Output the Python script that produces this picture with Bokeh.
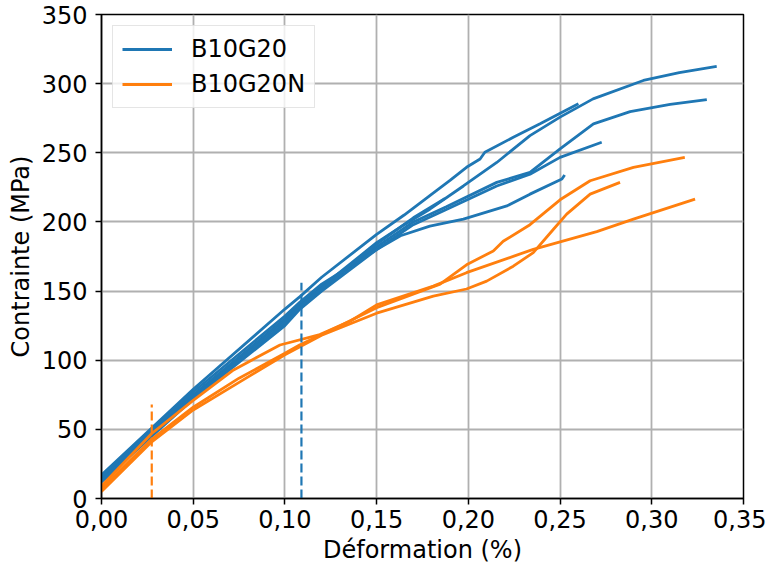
from bokeh.plotting import figure
from bokeh.models import Range1d, FixedTicker, CustomJSTickFormatter, Legend, LegendItem
from bokeh.embed import file_html
from bokeh.resources import INLINE

# ---- data ----
x_ticks = [0.0, 0.05, 0.10, 0.15, 0.20, 0.25, 0.30, 0.35]
y_ticks = [0, 50, 100, 150, 200, 250, 300, 350]

# B10G20 specimens
b1_x = [0, 0.0274, 0.05, 0.1, 0.1082, 0.12, 0.15, 0.165, 0.179, 0.1973, 0.2155, 0.2336, 0.25, 0.268, 0.2954, 0.315, 0.3354]
b1_y = [14, 47, 74, 130, 140, 153, 185, 198, 209.2, 226, 243, 262.4, 275.8, 289, 302.3, 308, 312.5]
b2_x = [0, 0.0274, 0.05, 0.1, 0.1082, 0.12, 0.15, 0.17, 0.188, 0.2155, 0.2336, 0.25, 0.2682, 0.2882, 0.31, 0.33]
b2_y = [15, 48, 75, 129, 139, 152, 182, 200, 211, 228.6, 235.8, 252.8, 270.9, 279.8, 285, 288.5]
b3_x = [0, 0.0274, 0.05, 0.1, 0.1082, 0.12, 0.15, 0.165, 0.179, 0.19, 0.199, 0.2064, 0.209, 0.2245, 0.2391, 0.26]
b3_y = [17, 51, 79, 137, 146, 160, 191, 205, 219, 230, 239.5, 245.5, 250.4, 261.2, 271, 285.4]
b4_x = [0, 0.0274, 0.05, 0.1, 0.1082, 0.12, 0.15, 0.17, 0.188, 0.2155, 0.2336, 0.25, 0.2727]
b4_y = [12, 45, 72, 125, 137, 150, 180, 198, 209, 226, 234.5, 246.7, 257.6]
b5_x = [0, 0.0274, 0.05, 0.1, 0.1082, 0.12, 0.15, 0.163, 0.179, 0.1973, 0.221, 0.2336, 0.251, 0.2525]
b5_y = [16, 49, 77, 132, 142, 155, 180, 190, 197, 202, 211.6, 220.1, 231, 234]
b6_x = [0, 0.0274, 0.05, 0.1, 0.1082, 0.12, 0.15, 0.17, 0.1873]
b6_y = [13, 46, 73, 127, 138, 152, 184, 203, 217]

# B10G20N specimens
o1_x = [0, 0.0274, 0.05, 0.075, 0.1, 0.108, 0.13, 0.15, 0.1846, 0.199, 0.2136, 0.219, 0.2336, 0.25, 0.2664, 0.29, 0.318]
o1_y = [7, 43, 66, 87, 105, 111, 125, 138, 155, 169, 179, 186, 198, 216, 229.8, 239.5, 246.7]
o2_x = [0, 0.0274, 0.05, 0.075, 0.1, 0.12, 0.15, 0.1809, 0.199, 0.21, 0.2245, 0.2354, 0.2464, 0.2536, 0.2664, 0.2827]
o2_y = [5, 41, 64, 84, 104, 118, 134, 146.3, 151.5, 157.2, 168, 177.8, 194.7, 205.6, 220.1, 228.6]
o3_x = [0, 0.0274, 0.05, 0.072, 0.0973, 0.119, 0.1355, 0.15, 0.1809, 0.199, 0.2354, 0.27, 0.29, 0.3236]
o3_y = [9, 47, 71, 93, 111, 118.5, 128.2, 140, 153.6, 163.3, 180.2, 193, 202, 216.5]

# vertical dashed markers
blue_mark_x = [0.109, 0.109]
blue_mark_y = [0, 156]
orange_mark_x = [0.0274, 0.0274]
orange_mark_y = [0, 68]

BLUE = "#1f77b4"
ORANGE = "#ff7f0e"
FONT = "DejaVu Sans"

p = figure(width=766, height=566, output_backend="svg", toolbar_location=None,
           x_range=Range1d(0, 0.35), y_range=Range1d(0, 350),
           min_border_left=101, min_border_right=23, min_border_top=14, min_border_bottom=68)
p.background_fill_color = "white"
p.border_fill_color = "white"
p.outline_line_color = "black"
p.outline_line_width = 1.5

blue_r = []
for xs, ys in [(b1_x, b1_y), (b2_x, b2_y), (b3_x, b3_y), (b4_x, b4_y), (b5_x, b5_y), (b6_x, b6_y)]:
    blue_r.append(p.line(xs, ys, line_color=BLUE, line_width=2.8))
orange_r = []
for xs, ys in [(o1_x, o1_y), (o2_x, o2_y), (o3_x, o3_y)]:
    orange_r.append(p.line(xs, ys, line_color=ORANGE, line_width=2.8))

p.line(blue_mark_x, blue_mark_y, line_color=BLUE, line_width=2.2, line_dash="9 4")
p.line(orange_mark_x, orange_mark_y, line_color=ORANGE, line_width=2.2, line_dash="9 4")

# axes
p.xaxis.ticker = FixedTicker(ticks=x_ticks)
p.yaxis.ticker = FixedTicker(ticks=y_ticks)
p.xaxis.formatter = CustomJSTickFormatter(code="return tick.toFixed(2).replace('.', ',');")
p.xaxis.axis_label = "Déformation (%)"
p.yaxis.axis_label = "Contrainte (MPa)"
for ax in (p.xaxis, p.yaxis):
    ax.axis_label_text_font = FONT
    ax.axis_label_text_font_size = "24px"
    ax.axis_label_text_font_style = "normal"
    ax.axis_label_text_color = "black"
    ax.major_label_text_font = FONT
    ax.major_label_text_font_size = "24px"
    ax.major_label_text_color = "black"
    ax.major_tick_in = 0
    ax.major_tick_out = 6
    ax.minor_tick_line_color = None
    ax.major_tick_line_width = 1.5
    ax.axis_line_width = 1.5
    ax.axis_line_color = "black"
p.xaxis.major_label_standoff = 5
p.xaxis.axis_label_standoff = 5
p.yaxis.major_label_standoff = 8
p.yaxis.axis_label_standoff = 4

p.grid.grid_line_color = "#b0b0b0"
p.grid.grid_line_width = 1.8

legend = Legend(items=[LegendItem(label="B10G20", renderers=[blue_r[0]]),
                       LegendItem(label="B10G20N", renderers=[orange_r[0]])],
                location="top_left", margin=11, padding=9, spacing=7,
                glyph_width=50, label_standoff=19,
                label_text_font=FONT, label_text_font_size="24px",
                label_text_color="black",
                border_line_color="#cccccc", border_line_width=1.5,
                background_fill_alpha=0.8)
p.add_layout(legend)

open("out.html", "w").write(file_html(p, INLINE))
